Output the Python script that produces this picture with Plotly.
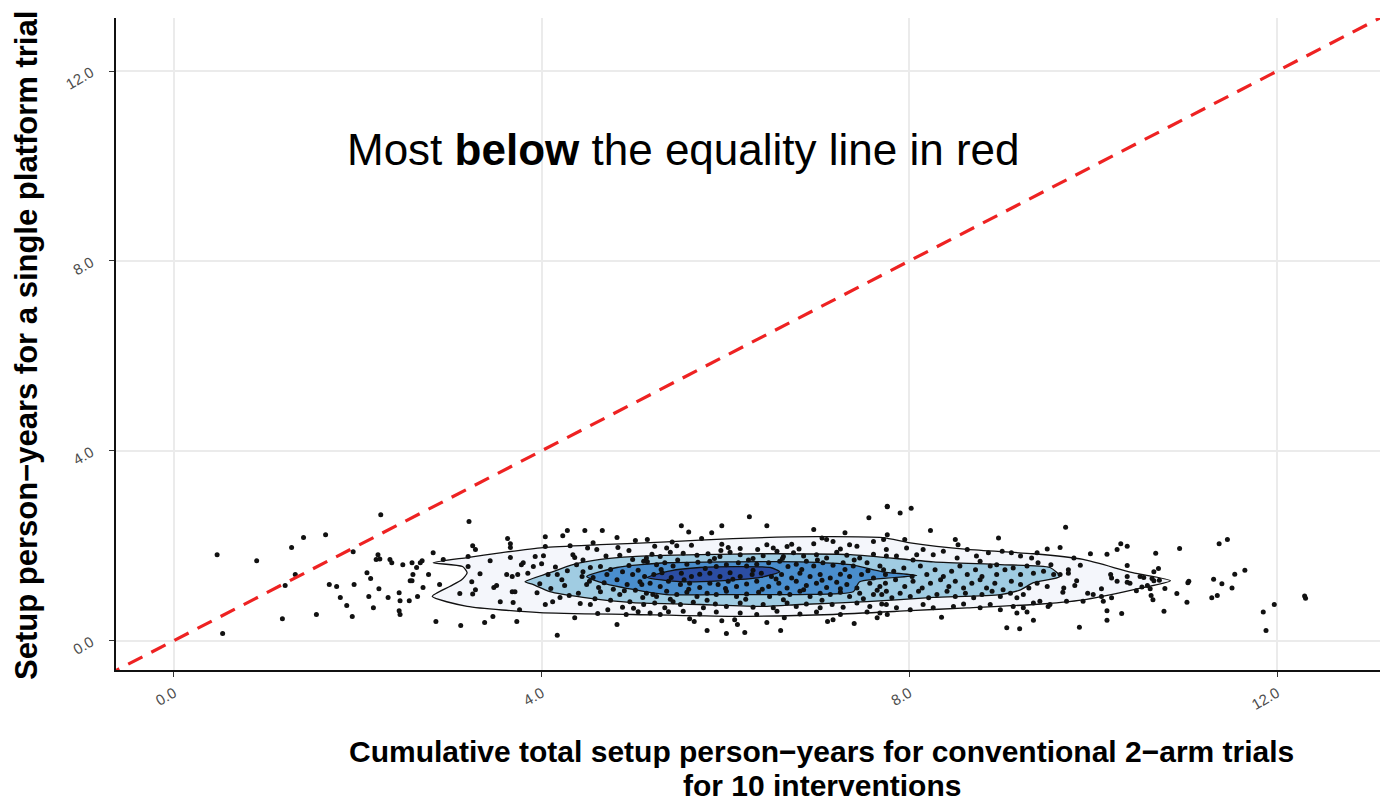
import plotly.graph_objects as go

# ---------------- data ----------------
# (cumulative conventional setup person-years, platform setup person-years)
pts_left = [
    (0.47, 1.81), (0.90, 1.68), (1.28, 1.96), (1.41, 2.17), (1.65, 2.23), (2.25, 2.65),
    (0.53, 0.15), (1.18, 0.46), (1.55, 0.55), (1.21, 1.16), (1.32, 1.39), (1.69, 1.18),
    (1.77, 1.14), (1.81, 0.91), (1.88, 0.74), (1.94, 0.51), (1.96, 1.18), (1.95, 1.87),
    (2.10, 1.43), (2.14, 1.31), (2.22, 1.81), (2.20, 1.71), (2.24, 1.72), (2.23, 1.09),
    (2.12, 0.93), (2.17, 0.69), (2.33, 0.91), (2.35, 1.71), (2.37, 1.64), (2.49, 1.60),
    (2.45, 1.01), (2.46, 0.84), (2.45, 0.63), (2.46, 0.55), (2.56, 0.84), (2.57, 1.26),
]

pts_mid_left = [
    (2.59, 1.64), (2.64, 1.54), (2.68, 1.64), (2.70, 1.68), (2.60, 1.39), (2.59, 1.26),
    (2.71, 1.12), (2.77, 1.39), (2.82, 1.85), (2.93, 1.71), (3.21, 2.51), (3.25, 2.00),
    (3.28, 1.92), (3.20, 1.77), (3.20, 1.56), (2.85, 0.40), (2.65, 0.93), (2.89, 1.18),
    (3.11, 0.99), (3.33, 1.41), (3.24, 1.24), (3.28, 1.07), (3.25, 0.98), (3.44, 1.68),
    (3.48, 1.12), (3.51, 1.16), (3.55, 0.82), (3.47, 0.51), (3.38, 0.38), (3.12, 0.32),
    (3.73, 0.40), (3.63, 2.15), (3.66, 2.04), (3.66, 1.96), (3.66, 1.75), (3.62, 1.39),
    (3.68, 1.35), (3.74, 1.39), (3.78, 1.60), (3.80, 1.64), (3.68, 1.03), (3.71, 1.03),
    (3.69, 0.80), (3.76, 0.65), (3.91, 1.56), (3.93, 1.77), (4.02, 1.79), (4.04, 2.19),
    (4.04, 1.98), (3.95, 1.01), (4.04, 0.76), (4.12, 0.82), (4.20, 0.91), (4.17, 0.11),
    (4.23, 2.21), (4.28, 2.32), (4.31, 2.00), (4.34, 1.81), (4.36, 1.75), (4.47, 2.32),
    (4.56, 2.06), (4.60, 1.92), (4.66, 2.32), (4.82, 2.17), (4.83, 1.96), (5.02, 2.11),
    (5.15, 2.13), (4.36, 0.48), (4.42, 0.78), (4.53, 0.76), (4.61, 0.57), (4.82, 0.34),
    (4.92, 0.55), (5.05, 0.61), (4.72, 0.65), (4.25, 1.16), (4.17, 1.39), (4.07, 1.39),
    (4.44, 1.35), (4.49, 1.18), (4.64, 1.03), (4.71, 1.39), (4.82, 1.28), (4.93, 1.18),
    (4.99, 1.39), (5.07, 1.24), (4.85, 0.97), (4.96, 0.82), (5.10, 0.91), (5.15, 1.66),
    (4.99, 1.71), (4.64, 1.56), (4.53, 1.54), (4.56, 1.33),
    (4.15, 1.55), (4.28, 1.47), (4.38, 1.60), (4.45, 1.45), (4.52, 1.25), (4.68, 1.22),
    (4.75, 1.50), (4.88, 1.45), (4.95, 1.58), (5.05, 1.48), (4.62, 1.12), (4.78, 1.08),
    (4.90, 1.05), (5.02, 1.06), (4.40, 1.00), (4.30, 0.95), (4.58, 0.88), (4.75, 0.85),
    (4.88, 0.70), (5.00, 0.68), (4.70, 1.78), (4.85, 1.80), (4.95, 1.90), (4.45, 1.70),
    (3.98, 1.20), (4.10, 1.10), (4.22, 1.28), (3.85, 1.42), (4.00, 1.62), (4.50, 1.95),
]

pts_core_outer = [
    (5.52, 2.42), (5.60, 2.29), (5.85, 2.27), (5.96, 2.42), (6.26, 2.61), (6.45, 2.42),
    (6.96, 2.34), (7.30, 2.27), (7.56, 2.59), (7.76, 2.82), (7.76, 2.23), (5.42, 2.08),
    (5.74, 2.15), (5.80, 0.21), (6.01, 0.15), (6.21, 0.17), (6.60, 0.21), (5.61, 0.46),
    (5.66, 0.40), (5.96, 0.42), (6.10, 0.44), (6.13, 0.34), (6.45, 0.38), (6.64, 0.48),
    (7.11, 0.40), (7.17, 0.44), (7.40, 0.36), (7.65, 0.48), (7.76, 0.55), (5.38, 0.61),
    (5.21, 0.97), (5.43, 0.82),
]

pts_core = [
    (5.23, 1.99), (5.36, 1.95), (5.47, 2.00), (5.63, 2.01), (5.96, 2.03), (6.03, 1.96),
    (6.16, 1.94), (6.45, 2.02), (6.52, 1.95), (6.67, 1.98), (6.72, 2.03), (6.96, 2.04),
    (7.05, 2.16), (7.10, 2.13), (7.17, 2.09), (7.35, 2.02), (7.43, 1.99), (7.61, 2.09),
    (7.72, 2.13),
    (5.14, 1.74), (5.20, 1.82), (5.29, 1.77), (5.40, 1.86), (5.54, 1.84), (5.69, 1.80),
    (5.81, 1.83), (5.94, 1.77), (6.05, 1.86), (6.16, 1.81), (6.30, 1.73), (6.41, 1.79),
    (6.56, 1.88), (6.63, 1.77), (6.74, 1.85), (6.85, 1.78), (6.99, 1.81), (7.10, 1.74),
    (7.21, 1.86), (7.32, 1.80), (7.46, 1.74), (7.61, 1.82), (7.75, 1.78),
    (5.11, 1.67), (5.25, 1.60), (5.34, 1.64), (5.43, 1.57), (5.58, 1.61), (5.70, 1.65),
    (5.83, 1.67), (5.90, 1.56), (6.01, 1.60), (6.14, 1.64), (6.23, 1.57), (6.34, 1.61),
    (6.47, 1.64), (6.59, 1.67), (6.68, 1.56), (6.77, 1.61), (6.88, 1.67), (6.96, 1.57),
    (7.06, 1.64), (7.17, 1.59), (7.28, 1.64), (7.39, 1.57), (7.54, 1.64), (7.68, 1.57),
    (5.12, 1.35), (5.22, 1.39), (5.31, 1.43), (5.41, 1.33), (5.52, 1.42), (5.63, 1.35),
    (5.72, 1.40), (5.83, 1.42), (5.94, 1.35), (6.05, 1.43), (6.16, 1.35), (6.29, 1.39),
    (6.39, 1.42), (6.50, 1.35), (6.61, 1.39), (6.72, 1.32), (6.81, 1.42), (6.92, 1.35),
    (7.03, 1.39), (7.14, 1.32), (7.25, 1.40), (7.35, 1.35), (7.48, 1.39), (7.61, 1.32),
    (7.74, 1.39),
    (5.09, 1.18), (5.18, 1.21), (5.29, 1.14), (5.38, 1.25), (5.51, 1.18), (5.61, 1.21),
    (5.72, 1.12), (5.83, 1.21), (5.92, 1.18), (6.03, 1.25), (6.12, 1.14), (6.23, 1.19),
    (6.34, 1.25), (6.47, 1.14), (6.58, 1.21), (6.67, 1.11), (6.77, 1.25), (6.88, 1.16),
    (6.99, 1.21), (7.10, 1.12), (7.21, 1.23), (7.32, 1.18), (7.43, 1.11), (7.57, 1.21),
    (7.68, 1.14),
    (5.14, 1.00), (5.25, 0.93), (5.36, 1.04), (5.47, 0.97), (5.58, 1.02), (5.69, 0.93),
    (5.80, 1.00), (5.90, 0.97), (6.01, 1.04), (6.12, 0.93), (6.23, 0.98), (6.36, 1.02),
    (6.48, 0.93), (6.59, 1.00), (6.70, 0.97), (6.81, 1.04), (6.92, 0.93), (7.03, 1.00),
    (7.14, 0.97), (7.25, 1.02), (7.35, 0.93), (7.46, 1.00), (7.61, 0.97), (7.75, 1.04),
    (5.11, 0.76), (5.23, 0.79), (5.34, 0.69), (5.51, 0.76), (5.65, 0.81), (5.76, 0.69),
    (5.89, 0.77), (6.01, 0.72), (6.16, 0.79), (6.30, 0.70), (6.41, 0.76), (6.52, 0.69),
    (6.67, 0.79), (6.77, 0.72), (6.88, 0.77), (7.03, 0.69), (7.16, 0.76), (7.28, 0.70),
    (7.43, 0.79), (7.57, 0.72), (7.70, 0.77),
    (5.18, 0.58), (5.29, 0.55), (5.54, 0.62), (5.72, 0.56), (5.90, 0.60), (6.16, 0.58),
    (6.34, 0.55), (6.56, 0.62), (6.81, 0.56), (6.99, 0.60), (7.25, 0.55), (7.54, 0.60),
    (5.30, 1.50), (5.55, 1.28), (5.78, 1.52), (6.08, 1.29), (6.30, 1.48), (6.55, 1.30),
    (6.83, 1.50), (7.05, 1.27), (7.30, 1.50), (7.55, 1.47), (5.48, 1.70), (5.88, 1.73),
    (6.25, 1.70), (6.62, 1.73), (7.00, 1.70), (7.40, 1.70), (5.60, 1.08), (6.00, 1.10),
    (6.40, 1.08), (6.85, 1.07), (7.25, 1.09), (7.65, 1.06), (5.40, 0.87), (5.80, 0.85),
    (6.22, 0.87), (6.63, 0.86), (7.05, 0.85), (7.50, 0.88), (5.95, 1.90), (6.35, 1.92),
    (6.80, 1.93), (7.25, 1.93),
]

pts_right_outer = [
    (7.76, 2.83), (7.90, 2.69), (8.02, 2.79), (8.23, 2.32), (8.50, 2.13), (8.53, 2.02),
    (8.97, 2.16), (9.70, 2.39), (9.64, 1.96), (9.50, 1.93), (9.39, 1.85), (9.97, 1.83),
    (10.15, 1.82), (10.26, 1.92), (10.30, 2.04), (10.37, 1.99), (10.37, 1.58), (10.19, 1.39),
    (10.26, 1.25), (10.37, 1.23), (10.15, 0.63), (10.15, 0.43), (10.31, 0.57), (9.85, 0.28),
    (9.35, 0.43), (9.20, 0.25), (9.06, 0.27), (9.17, 0.58), (9.28, 0.60), (8.35, 0.49),
    (7.68, 0.58), (10.00, 0.97), (10.09, 0.93), (9.89, 0.83), (9.71, 0.83), (9.51, 0.72),
    (9.42, 0.83), (9.82, 1.26), (9.80, 1.16), (9.94, 1.00), (9.68, 1.11), (9.67, 1.02),
    (9.73, 1.49), (9.73, 1.42), (9.64, 1.39), (9.54, 1.60), (9.86, 1.59), (9.79, 1.74),
]

pts_right = [
    (7.75, 1.92), (7.86, 1.78), (7.95, 2.13), (7.97, 1.95), (8.04, 1.70), (8.08, 1.81),
    (8.15, 1.92), (8.26, 1.81), (8.37, 1.88), (8.52, 1.74), (8.63, 1.92), (8.73, 1.78),
    (8.77, 1.67), (8.86, 1.85), (8.95, 1.60), (9.01, 1.88), (9.11, 1.85), (9.21, 1.78),
    (9.33, 1.74), (9.40, 1.64),
    (7.72, 1.49), (7.83, 1.46), (7.94, 1.53), (8.03, 1.35), (8.12, 1.57), (8.19, 1.39),
    (8.28, 1.49), (8.37, 1.35), (8.46, 1.46), (8.55, 1.57), (8.63, 1.39), (8.72, 1.49),
    (8.79, 1.35), (8.88, 1.57), (8.95, 1.39), (9.04, 1.49), (9.13, 1.53), (9.21, 1.39),
    (9.28, 1.57), (9.35, 1.42), (9.46, 1.46), (9.57, 1.39),
    (7.74, 1.21), (7.85, 1.28), (7.95, 1.14), (8.04, 1.25), (8.14, 1.11), (8.23, 1.21),
    (8.34, 1.28), (8.43, 1.14), (8.50, 1.25), (8.59, 1.11), (8.68, 1.21), (8.77, 1.28),
    (8.84, 1.11), (8.93, 1.21), (9.02, 1.07), (9.11, 1.25), (9.21, 1.18), (9.30, 1.11),
    (9.39, 1.21), (9.50, 1.14),
    (7.70, 0.97), (7.81, 0.90), (7.90, 1.00), (8.01, 0.93), (8.10, 1.04), (8.21, 0.90),
    (8.30, 0.97), (8.41, 1.04), (8.50, 0.93), (8.61, 1.00), (8.70, 0.90), (8.79, 0.97),
    (8.90, 1.04), (8.99, 0.93), (9.10, 1.00), (9.17, 0.90), (9.24, 0.97),
    (7.75, 0.76), (7.86, 0.69), (8.01, 0.65), (8.15, 0.76), (8.26, 0.69), (8.48, 0.72),
    (8.59, 0.77), (8.77, 0.69), (8.88, 0.76), (8.99, 0.65), (9.13, 0.72), (9.24, 0.69),
    (9.35, 0.79), (9.53, 0.76),
]

pts_far_right = [
    (10.68, 1.84), (10.94, 1.94), (11.37, 2.04), (11.46, 2.13), (10.71, 1.52), (10.66, 1.45),
    (10.20, 1.32), (10.37, 1.35), (10.40, 1.21), (10.51, 1.35), (10.55, 1.33), (10.64, 1.31),
    (10.66, 1.26), (10.72, 1.27), (10.53, 1.13), (10.59, 1.16), (10.62, 1.09), (10.47, 1.05),
    (10.78, 1.10), (10.09, 1.09), (11.03, 1.22), (11.04, 1.25), (11.31, 1.29), (11.40, 1.20),
    (11.54, 1.40), (11.65, 1.48), (11.51, 1.11), (10.91, 0.99), (10.63, 0.95), (10.65, 0.86),
    (10.20, 0.90), (10.11, 0.83), (11.02, 0.81), (11.29, 0.90), (11.35, 0.95), (10.77, 0.62),
    (11.85, 0.60), (11.97, 0.76), (11.88, 0.21), (12.30, 0.94), (12.31, 0.89),
]

# density contour bands (outer -> inner)
contour_1_x = [2.82, 3.19, 3.55, 4.02, 4.64, 5.36, 6.08, 7.00, 7.71, 8.01, 8.63, 9.35, 9.89,
               10.43, 10.84, 10.43, 9.89, 9.35, 8.63, 8.01, 7.17, 6.08, 4.99, 3.98, 3.19,
               2.81, 3.00, 3.13, 3.19, 3.14, 2.82]
contour_1_y = [1.64, 1.75, 1.85, 1.96, 2.02, 2.08, 2.15, 2.19, 2.17, 2.06, 1.92, 1.83, 1.71,
               1.43, 1.26, 1.07, 0.86, 0.76, 0.69, 0.63, 0.55, 0.51, 0.55, 0.59, 0.72,
               0.93, 1.14, 1.28, 1.43, 1.56, 1.64]

contour_2_x = [3.82, 4.09, 4.34, 4.64, 4.99, 5.72, 6.45, 7.36, 8.26, 8.99, 9.53, 9.64,
               9.35, 9.21, 8.99, 8.26, 7.54, 6.81, 6.45, 5.72, 4.99, 4.45, 4.09, 3.91, 3.82]
contour_2_y = [1.24, 1.43, 1.60, 1.71, 1.77, 1.81, 1.83, 1.81, 1.66, 1.60, 1.54, 1.35,
               1.22, 1.07, 0.97, 0.91, 0.82, 0.76, 0.72, 0.76, 0.80, 0.91, 1.03, 1.18, 1.24]

contour_3_x = [4.49, 4.82, 5.36, 6.08, 6.81, 7.36, 7.71, 8.08, 7.46, 7.39, 6.81, 6.08,
               5.36, 4.82, 4.56, 4.49]
contour_3_y = [1.35, 1.54, 1.64, 1.66, 1.66, 1.60, 1.45, 1.37, 1.24, 1.03, 0.97, 0.97,
               0.97, 1.14, 1.28, 1.35]

contour_4_x = [5.15, 5.40, 5.72, 6.16, 6.49, 6.59, 6.38, 5.94, 5.51, 5.15]
contour_4_y = [1.33, 1.47, 1.54, 1.56, 1.54, 1.45, 1.33, 1.26, 1.24, 1.33]

band_colors = ["#F4F6FB", "#A0CCE2", "#4A8ECD", "#2B4DA3"]

equality_x = [-1, 14]
equality_y = [-1, 14]

tick_vals = [0, 4, 8, 12]

# ---------------- figure ----------------
all_pts = pts_left + pts_mid_left + pts_core_outer + pts_core + pts_right_outer + pts_right + pts_far_right
px = [p[0] for p in all_pts]
py = [p[1] for p in all_pts]

fig = go.Figure()

for cx, cy, col in zip([contour_1_x, contour_2_x, contour_3_x, contour_4_x],
                       [contour_1_y, contour_2_y, contour_3_y, contour_4_y],
                       band_colors):
    fig.add_trace(go.Scatter(x=cx, y=cy, mode="lines", fill="toself", fillcolor=col,
                             line=dict(color="#111111", width=1.3, shape="spline", smoothing=0.6),
                             hoverinfo="skip", showlegend=False))

fig.add_trace(go.Scatter(x=px, y=py, mode="markers",
                         marker=dict(color="#111111", size=5, line=dict(width=0)),
                         showlegend=False))

fig.add_trace(go.Scatter(x=equality_x, y=equality_y, mode="lines",
                         line=dict(color="#EE2222", width=3.2, dash="16px,10px"),
                         hoverinfo="skip", showlegend=False))

axis_common = dict(
    tickvals=tick_vals, tickformat=".1f", tickangle=-30,
    tickfont=dict(family="Liberation Sans, Arial, sans-serif", size=15, color="#4D4D4D"),
    showgrid=True, gridcolor="#EBEBEB", gridwidth=1.5,
    zeroline=False, showline=True, linecolor="#111111", linewidth=1.5,
    ticks="outside", ticklen=5, tickcolor="#333333", tickwidth=1,
    mirror=False,
)

title_font = dict(family="Liberation Sans, Arial, sans-serif", size=30, color="black")

fig.update_layout(
    width=1380, height=803,
    margin=dict(l=116, r=0, t=18, b=133),
    paper_bgcolor="white", plot_bgcolor="white",
    xaxis=dict(range=[-0.63, 13.12], ticklabelstandoff=2, **axis_common),
    yaxis=dict(range=[-0.62, 13.12], ticklabelstandoff=15, **axis_common),
    showlegend=False,
    annotations=[
        dict(text="Most <b>below</b> the equality line in red", x=5.54, y=10.34,
             xref="x", yref="y", showarrow=False,
             font=dict(family="Liberation Sans, Arial, sans-serif", size=44, color="black")),
        dict(text="<b>Cumulative total setup person\u2212years for conventional 2\u2212arm trials</b>",
             x=0.5585, y=-0.1245, xref="paper", yref="paper", xanchor="center", yanchor="middle",
             showarrow=False, font=title_font),
        dict(text="<b>for 10 interventions</b>",
             x=0.5585, y=-0.1775, xref="paper", yref="paper", xanchor="center", yanchor="middle",
             showarrow=False, font=title_font),
        dict(text="<b>Setup person\u2212years for a single platform trial</b>",
             x=-0.0704, y=0.497, xref="paper", yref="paper", xanchor="center", yanchor="middle",
             textangle=-90, showarrow=False,
             font=dict(family="Liberation Sans, Arial, sans-serif", size=31, color="black")),
    ],
)

fig.write_html("out.html")
